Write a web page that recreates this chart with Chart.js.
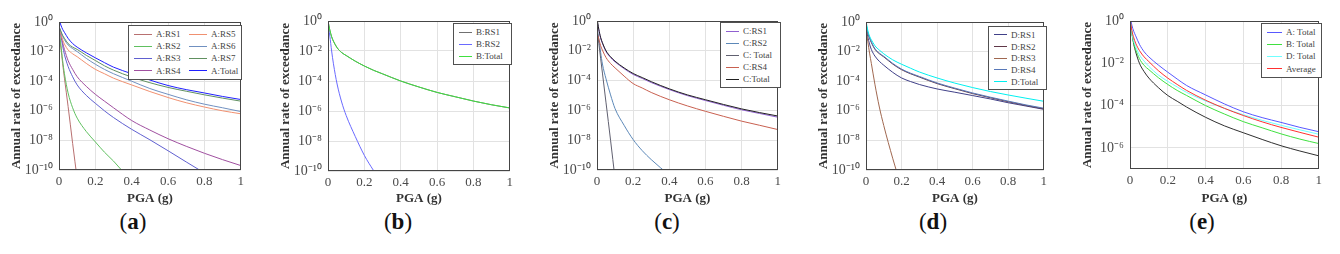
<!DOCTYPE html>
<html>
<head>
<meta charset="utf-8">
<script src="https://cdn.jsdelivr.net/npm/chart.js@4/dist/chart.umd.min.js"></script>
<style>
  body { margin: 0; background: #fff; width: 1340px; height: 254px; position: relative; overflow: hidden; }
  canvas { position: absolute; top: 0; }
  .lg { position: absolute; background: #fff; border: 1px solid #505050; padding: 2px 0 2px 5px; box-sizing: border-box;
        display: grid; grid-auto-flow: column; font: 9px 'Liberation Serif', serif; color: #444; }
  .it { display: flex; align-items: center; white-space: nowrap; }
  .it i { display: inline-block; height: 0; margin-right: 4px; }
  .cap { position: absolute; top: 208px; font: 23px/28px 'Liberation Serif', serif; color: #111; transform: translateX(-50%); }
</style>
</head>
<body>
<canvas id="ca" width="248" height="206" style="left:0px"></canvas>
<canvas id="cb" width="248" height="206" style="left:269px"></canvas>
<canvas id="cc" width="247" height="206" style="left:538px"></canvas>
<canvas id="cd" width="244" height="206" style="left:807px"></canvas>
<canvas id="ce" width="255" height="206" style="left:1071px"></canvas>
<div class="cap" style="left:133px">(<b>a</b>)</div>
<div class="cap" style="left:398px">(<b>b</b>)</div>
<div class="cap" style="left:667px">(<b>c</b>)</div>
<div class="cap" style="left:933px">(<b>d</b>)</div>
<div class="cap" style="left:1202px">(<b>e</b>)</div>
<script>
// PGA values (g) where the curves were read
const pga = [0, 0.01, 0.02, 0.03, 0.05, 0.075, 0.1, 0.15, 0.2, 0.25, 0.3, 0.4, 0.5, 0.6, 0.7, 0.8, 0.9, 1.0];

const xTicks = [0, 0.2, 0.4, 0.6, 0.8, 1];
const xTickLabels = ['0', '0.2', '0.4', '0.6', '0.8', '1'];
const yTicks = [1e-10, 1e-8, 1e-6, 1e-4, 1e-2, 1];
const yTickLabels = ['10⁻¹⁰', '10⁻⁸', '10⁻⁶', '10⁻⁴', '10⁻²', '10⁰'];
const yTicksE = [1e-6, 1e-4, 1e-2, 1];
const yTickLabelsE = ['10⁻⁶', '10⁻⁴', '10⁻²', '10⁰'];

// region A
const aRs1 = [0.25, 0.02, 1.6e-3, 1.6e-4, 2.0e-6, 6.3e-9, 2.5e-11];
const aRs2 = [0.4, 0.032, 2.5e-3, 3.2e-4, 1.6e-5, 1.6e-6, 3.2e-7, 4.0e-8, 7.9e-9, 1.6e-9, 4.0e-10, 1.6e-11];
const aRs3 = [0.5, 0.13, 0.025, 6.3e-3, 1.0e-3, 2.0e-4, 5.6e-5, 1.1e-5, 3.2e-6, 1.0e-6, 3.5e-7, 5.6e-8, 1.1e-8, 2.0e-9, 3.5e-10, 6.3e-11];
const aRs4 = [0.5, 0.16, 0.04, 0.014, 2.5e-3, 6.3e-4, 2.0e-4, 4.5e-5, 1.3e-5, 4.5e-6, 1.6e-6, 2.2e-7, 5.0e-8, 1.3e-8, 4.0e-9, 1.35e-9, 5.0e-10, 2.0e-10];
const aRs5 = [0.45, 0.16, 0.063, 0.032, 0.013, 7.1e-3, 4.5e-3, 1.6e-3, 6.3e-4, 3.2e-4, 1.6e-4, 5.6e-5, 2.0e-5, 7.9e-6, 3.5e-6, 1.8e-6, 1.0e-6, 6.3e-7];
const aRs6 = [0.5, 0.22, 0.11, 0.063, 0.028, 0.016, 0.01, 3.5e-3, 1.4e-3, 6.3e-4, 3.2e-4, 1.0e-4, 3.2e-5, 1.3e-5, 5.6e-6, 2.8e-6, 1.6e-6, 8.9e-7];
const aRs7 = [0.5, 0.25, 0.126, 0.079, 0.035, 0.02, 0.014, 5.6e-3, 2.5e-3, 1.1e-3, 5.6e-4, 1.9e-4, 7.9e-5, 3.8e-5, 2.1e-5, 1.2e-5, 7.2e-6, 4.5e-6];
const aTotal = [1.6, 0.63, 0.32, 0.2, 0.079, 0.035, 0.02, 8.3e-3, 3.8e-3, 1.8e-3, 8.9e-4, 3.2e-4, 1.2e-4, 5.1e-5, 2.7e-5, 1.6e-5, 9.3e-6, 5.8e-6];

// region B
const bRs1 = [1.0, 0.25, 0.089, 0.045, 0.0166, 7.9e-3, 5.0e-3, 2.1e-3, 1.0e-3, 5.2e-4, 3.0e-4, 1.0e-4, 4.0e-5, 1.74e-5, 8.9e-6, 4.6e-6, 2.6e-6, 1.6e-6];
const bRs2 = [0.63, 0.1, 0.01, 1.4e-3, 6.3e-5, 4.0e-6, 5.0e-7, 2.0e-8, 1.1e-9, 1.1e-10, 1.3e-11];
const bTotal = [1.0, 0.25, 0.089, 0.045, 0.0166, 7.9e-3, 5.0e-3, 2.1e-3, 1.0e-3, 5.2e-4, 3.0e-4, 1.0e-4, 4.0e-5, 1.74e-5, 8.9e-6, 4.6e-6, 2.6e-6, 1.6e-6];

// region C
const cRs1 = [1.26, 0.25, 0.071, 0.032, 8.9e-3, 3.5e-3, 1.8e-3, 6.3e-4, 2.6e-4, 1.4e-4, 7.4e-5, 2.5e-5, 9.8e-6, 4.6e-6, 2.2e-6, 1.1e-6, 6.2e-7, 3.5e-7];
const cRs2 = [0.32, 0.063, 7.9e-3, 1.3e-3, 1.3e-4, 1.1e-5, 1.3e-6, 1.0e-7, 1.1e-8, 2.0e-9, 5.0e-10, 4.5e-11];
const cRs3 = [0.4, 0.032, 3.2e-3, 3.2e-4, 3.2e-6, 1.0e-8, 2.5e-11];
const cRs4 = [0.16, 0.063, 0.022, 0.011, 3.5e-3, 1.4e-3, 7.1e-4, 2.0e-4, 6.3e-5, 3.2e-5, 1.6e-5, 5.2e-6, 2.0e-6, 8.7e-7, 4.0e-7, 1.9e-7, 1.0e-7, 5.2e-8];
const cTotal = [1.6, 0.28, 0.079, 0.035, 0.01, 4.0e-3, 2.0e-3, 7.1e-4, 3.0e-4, 1.6e-4, 8.5e-5, 2.8e-5, 1.1e-5, 5.2e-6, 2.5e-6, 1.26e-6, 7.1e-7, 4.2e-7];

// region D
const dRs1 = [0.4, 0.1, 0.032, 0.014, 5.0e-3, 2.2e-3, 1.2e-3, 4.0e-4, 1.66e-4, 9.5e-5, 6.0e-5, 3.0e-5, 1.8e-5, 1.07e-5, 6.3e-6, 3.5e-6, 2.1e-6, 1.26e-6];
const dRs2 = [0.72, 0.18, 0.081, 0.041, 0.0145, 7.2e-3, 4.4e-3, 1.45e-3, 6.0e-4, 3.2e-4, 1.9e-4, 6.9e-5, 3.1e-5, 1.45e-5, 7.6e-6, 4.1e-6, 2.3e-6, 1.35e-6];
const dRs3 = [0.32, 0.05, 7.9e-3, 1.6e-3, 6.3e-5, 1.8e-6, 1.0e-7, 6.3e-10, 6.3e-12];
const dRs4 = [0.8, 0.2, 0.089, 0.045, 0.016, 7.9e-3, 4.8e-3, 1.6e-3, 6.6e-4, 3.5e-4, 2.1e-4, 7.6e-5, 3.4e-5, 1.6e-5, 8.3e-6, 4.5e-6, 2.5e-6, 1.5e-6];
const dTotal = [1.26, 0.28, 0.11, 0.063, 0.025, 0.0126, 7.1e-3, 2.8e-3, 1.4e-3, 7.6e-4, 4.2e-4, 1.66e-4, 7.4e-5, 3.7e-5, 2.0e-5, 1.17e-5, 7.1e-6, 4.4e-6];

// average of the regions
const average = [1.26, 0.35, 0.16, 0.089, 0.04, 0.02, 0.012, 4.5e-3, 2.0e-3, 1.0e-3, 5.2e-4, 1.8e-4, 7.4e-5, 3.4e-5, 1.7e-5, 9.3e-6, 5.4e-6, 3.2e-6];

const serif = "'Liberation Serif', 'Times New Roman', serif";

function line(label, values, color, extra) {
  return Object.assign({
    label: label,
    data: values.map((v, i) => ({ x: pga[i], y: v })),
    borderColor: color,
    borderWidth: 1,
    pointRadius: 0,
    fill: false
  }, extra || {});
}

// box round the plot area
const frame = {
  id: 'frame',
  afterDraw(chart) {
    const a = chart.chartArea;
    const ctx = chart.ctx;
    ctx.save();
    ctx.strokeStyle = '#454545';
    ctx.lineWidth = 1;
    ctx.strokeRect(Math.round(a.left) + 0.5, Math.round(a.top) + 0.5,
                   Math.round(a.right - a.left) - 1, Math.round(a.bottom - a.top) - 1);
    ctx.restore();
  }
};

function makePanel(id, top, bottom, yMin, yT, yL, datasets) {
  const canvas = document.getElementById(id);
  // later datasets are drawn on top, as in the original figure
  datasets.forEach((d, i) => { d.order = datasets.length - i; });
  return new Chart(canvas, {
    type: 'line',
    data: { datasets: datasets },
    options: {
      responsive: false,
      animation: false,
      events: [],
      layout: { padding: { left: 9, top: top, right: 3, bottom: 0 } },
      elements: { line: { cubicInterpolationMode: 'monotone', capBezierPoints: false } },
      plugins: { legend: { display: false }, tooltip: { enabled: false } },
      scales: {
        x: {
          type: 'linear', min: 0, max: 1,
          afterBuildTicks: s => { s.ticks = xTicks.map(v => ({ value: v })); },
          afterFit: s => { s.height = canvas.height - bottom; },
          ticks: { callback: (v, i) => xTickLabels[i], color: '#4a4a4a', padding: 4,
                   font: { family: serif, size: 13 }, maxRotation: 0, autoSkip: false },
          grid: { color: '#e2e2e2', drawTicks: false },
          border: { display: false },
          title: { display: true, text: 'PGA (g)', color: '#333', padding: 0,
                   font: { family: serif, size: 13, weight: 'bold' } }
        },
        y: {
          type: 'logarithmic', min: yMin, max: 1,
          afterBuildTicks: s => { s.ticks = yT.map(v => ({ value: v })); },
          afterFit: s => { s.width = 50; },
          ticks: { callback: (v, i) => yL[i], color: '#4a4a4a', padding: 6,
                   font: { family: serif, size: 14 }, autoSkip: false },
          grid: { color: '#e2e2e2', drawTicks: false },
          border: { display: false },
          title: { display: true, text: 'Annual rate of exceedance', color: '#333', padding: 0,
                   font: { family: serif, size: 13, weight: 'bold' } }
        }
      }
    },
    plugins: [frame]
  });
}

// legend box drawn from the chart's own datasets
function addLegend(chart, box) {
  const div = document.createElement('div');
  div.className = 'lg';
  div.style.left = box.left + 'px';
  div.style.top = box.top + 'px';
  div.style.width = box.width + 'px';
  div.style.gridTemplateRows = 'repeat(' + box.rows + ', ' + box.rowH + 'px)';
  div.style.gridTemplateColumns = 'repeat(' + (box.cols || 1) + ', ' + (box.colW ? box.colW + 'px' : '1fr') + ')';
  chart.data.datasets.forEach(d => {
    if (d.inLegend === false) return;
    const it = document.createElement('div');
    it.className = 'it';
    it.innerHTML = '<i style="width:' + box.lineW + 'px;border-top:1.5px solid ' + d.borderColor + '"></i>' + d.label;
    div.appendChild(it);
  });
  document.body.appendChild(div);
}

const chA = makePanel('ca', 22, 170, 1e-10, yTicks, yTickLabels, [
  line('A:RS1', aRs1, '#b87070'),
  line('A:RS2', aRs2, '#60c060'),
  line('A:RS3', aRs3, '#6060d0'),
  line('A:RS4', aRs4, '#a050a0'),
  line('A:RS5', aRs5, '#f09070'),
  line('A:RS6', aRs6, '#7090c0'),
  line('A:RS7', aRs7, '#609060'),
  line('A:Total', aTotal, '#2020ff')
]);
addLegend(chA, { left: 128, top: 25, width: 114, rows: 4, rowH: 12.2, cols: 2, colW: 55, lineW: 18 });

const chB = makePanel('cb', 21, 171, 1e-10, yTicks, yTickLabels, [
  line('B:RS1', bRs1, '#707070'),
  line('B:RS2', bRs2, '#6a6aff'),
  line('B:Total', bTotal, '#40e040')
]);
addLegend(chB, { left: 453, top: 23, width: 59, rows: 3, rowH: 12, lineW: 13 });

const chC = makePanel('cc', 21, 170, 1e-10, yTicks, yTickLabels, [
  line('C:RS1', cRs1, '#9060d0'),
  line('C:RS2', cRs2, '#5c88b8'),
  line('C: Total', cRs3, '#606070'),
  line('C:RS4', cRs4, '#c86050'),
  line('C:Total', cTotal, '#202020')
]);
addLegend(chC, { left: 720, top: 22, width: 61, rows: 5, rowH: 12, lineW: 13 });

const chD = makePanel('cd', 22, 170, 1e-10, yTicks, yTickLabels, [
  line('D:RS1', dRs1, '#404088'),
  line('D:RS2', dRs2, '#603848'),
  line('D:RS3', dRs3, '#a06850'),
  line('D:RS4', dRs4, '#5878b8'),
  line('D:Total', dTotal, '#00f0f0')
]);
addLegend(chD, { left: 988, top: 26, width: 59, rows: 5, rowH: 11.7, lineW: 13 });

const chE = makePanel('ce', 21, 169, 1e-7, yTicksE, yTickLabelsE, [
  line('C: Total', cTotal, '#303030', { inLegend: false }),
  line('A: Total', aTotal, '#5858ff'),
  line('B: Total', bTotal, '#40e040'),
  line('D: Total', dTotal, '#70ffff'),
  line('Average', average, '#ff3030')
]);
addLegend(chE, { left: 1261, top: 23, width: 61, rows: 4, rowH: 12.2, lineW: 15 });
</script>
</body>
</html>
